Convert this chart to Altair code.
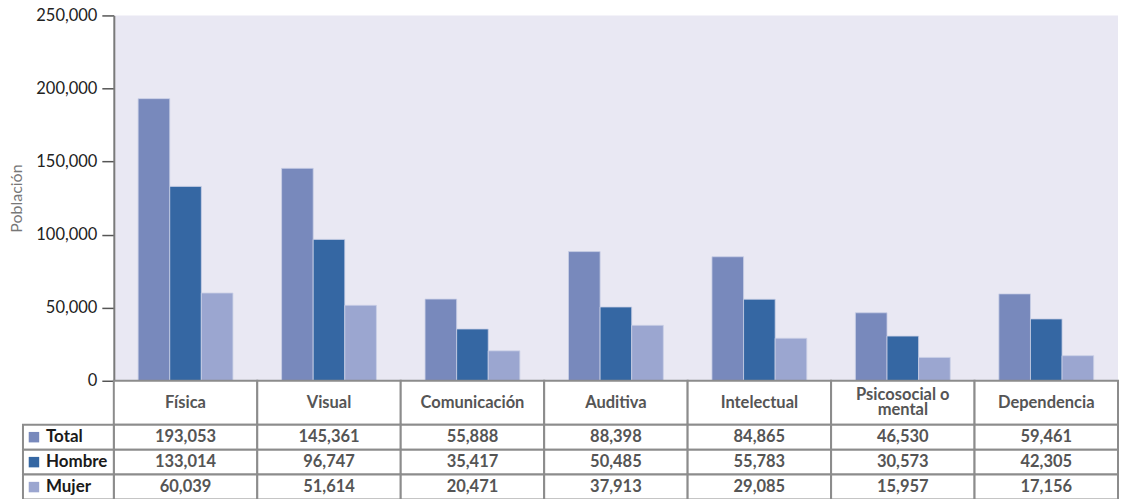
import altair as alt
import pandas as pd

categories = ["Física", "Visual", "Comunicación", "Auditiva", "Intelectual",
              "Psicosocial o mental", "Dependencia"]
header_labels = ["Física", "Visual", "Comunicación", "Auditiva", "Intelectual",
                 "Psicosocial o\nmental", "Dependencia"]
series = ["Total", "Hombre", "Mujer"]
total = [193053, 145361, 55888, 88398, 84865, 46530, 59461]
hombre = [133014, 96747, 35417, 50485, 55783, 30573, 42305]
mujer = [60039, 51614, 20471, 37913, 29085, 15957, 17156]
colors = ["#7889bc", "#3567a3", "#9ba6d0"]
y_ticks = [0, 50000, 100000, 150000, 200000, 250000]

rows = []
for s, vals in zip(series, [total, hombre, mujer]):
    for c, v in zip(categories, vals):
        rows.append({"categoria": c, "serie": s, "valor": v})
df = pd.DataFrame(rows)
df_cat = pd.DataFrame({"categoria": categories, "label": header_labels})
df_ser = pd.DataFrame({"serie": series})

FONT = "Lato"
GRID = "#8c8c8c"
W = 1006

xcat = alt.X("categoria:N", sort=categories, axis=None,
             scale=alt.Scale(paddingInner=0, paddingOuter=0))
color = alt.Color("serie:N", scale=alt.Scale(domain=series, range=colors), legend=None)

bars = alt.Chart(df).mark_bar(stroke="#c9cfe6", strokeWidth=0.8).encode(
    x=xcat,
    xOffset=alt.XOffset("serie:N", sort=series,
                        scale=alt.Scale(paddingInner=0, paddingOuter=0.77)),
    y=alt.Y("valor:Q", title="Población",
            scale=alt.Scale(domain=[0, 250000], nice=False),
            axis=alt.Axis(values=y_ticks, format=",.0f", grid=False,
                          domainColor="#7a7a7a", domainWidth=2,
                          tickColor="#555555", tickWidth=1.5, tickSize=12,
                          labelFont=FONT, labelFontSize=16.5, labelColor="#222222",
                          labelPadding=5, titleFont=FONT, titleFontSize=16,
                          titleFontWeight="normal", titleColor="#777777",
                          titlePadding=11)),
    color=color,
).properties(width=W, height=366, view=alt.ViewBackground(fill="#e9e8f3", stroke=None))

header_rect = alt.Chart(df_cat).mark_rect(fill="white", stroke=GRID, strokeWidth=2).encode(
    x=xcat)
header_text1 = alt.Chart(df_cat).transform_filter(
    "indexof(datum.label, '\\n') < 0").mark_text(
    font=FONT, fontSize=16.5, fontWeight="bold", color="#555555",
    baseline="middle").encode(
    x=xcat, y=alt.value(22), text="label:N")
header_text2 = alt.Chart(df_cat).transform_filter(
    "indexof(datum.label, '\\n') >= 0").mark_text(
    font=FONT, fontSize=16.5, fontWeight="bold", color="#555555",
    lineBreak="\n", lineHeight=15, baseline="middle").encode(
    x=xcat, y=alt.value(14), text="label:N")
header = alt.layer(header_rect, header_text1, header_text2).properties(
    width=W, height=44, view=alt.ViewBackground(stroke=None))

yrow = alt.Y("serie:N", sort=series, axis=None,
             scale=alt.Scale(paddingInner=0, paddingOuter=0))
cell_rect = alt.Chart(df).mark_rect(fill="white", stroke=GRID, strokeWidth=2).encode(
    x=xcat, y=yrow)
cell_text = alt.Chart(df).mark_text(
    font=FONT, fontSize=16.5, fontWeight="bold", color="#555555", baseline="middle").encode(
    x=xcat, y=yrow, text=alt.Text("valor:Q", format=",.0f"))
lab_rect = alt.Chart(df_ser).mark_rect(fill="white", stroke=GRID, strokeWidth=2).encode(
    x=alt.value(-91), x2=alt.value(0), y=yrow)
lab_sq = alt.Chart(df_ser).mark_square(size=110, opacity=1).encode(
    x=alt.value(-80), y=yrow, color=color)
lab_text = alt.Chart(df_ser).mark_text(
    font=FONT, fontSize=17, fontWeight="bold", color="#1a1a1a", align="left",
    baseline="middle").encode(
    x=alt.value(-68), y=yrow, text="serie:N")
table = alt.layer(cell_rect, cell_text, lab_rect, lab_sq, lab_text).properties(
    width=W, height=75, view=alt.ViewBackground(stroke=None))

chart = alt.vconcat(bars, header, table, spacing=0, bounds="flush").properties(
    padding={"left": 0, "top": -1, "right": 0, "bottom": 0}).configure_view(stroke=None)

chart.save("out.html", embed_options={"renderer": "svg", "actions": False})
